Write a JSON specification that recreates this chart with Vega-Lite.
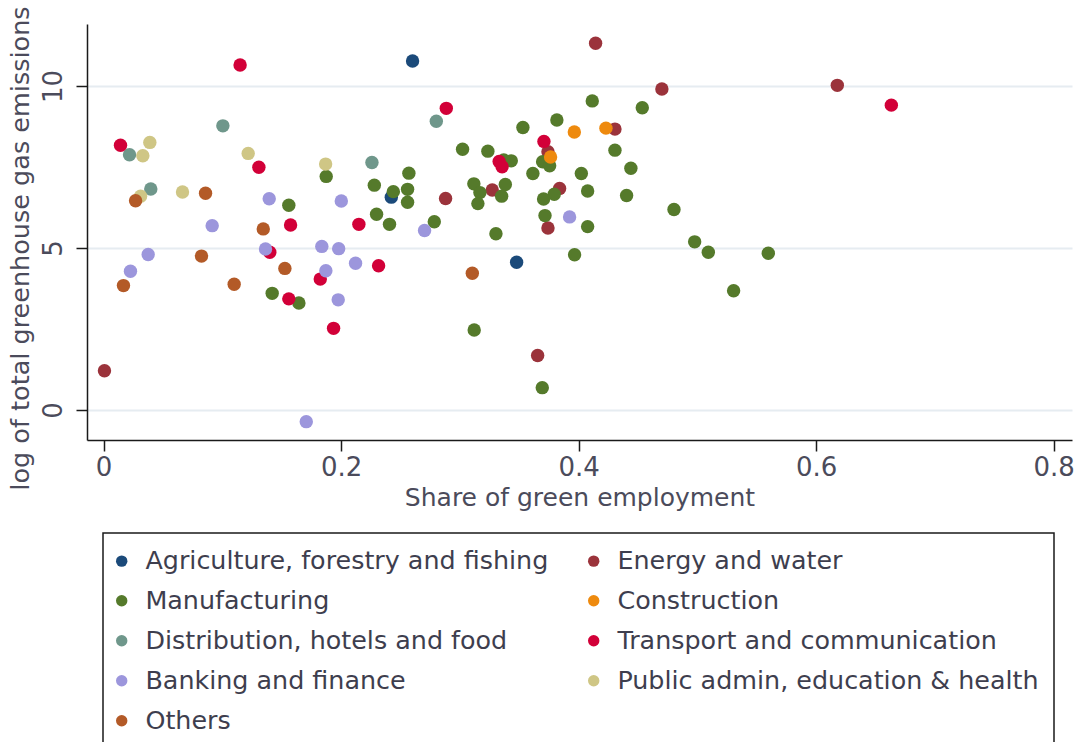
{
  "$schema": "https://vega.github.io/schema/vega-lite/v6.json",
  "width": 985,
  "height": 416,
  "autosize": {"type": "none"},
  "padding": {"left": 87, "top": 24, "right": 2, "bottom": 302},
  "background": "white",
  "config": {
    "font": "DejaVu Sans",
    "view": {"stroke": null},
    "axis": {"labelFont": "DejaVu Sans", "titleFont": "DejaVu Sans", "labelColor": "#4b4b5b", "titleColor": "#4b4b5b", "titleFontWeight": "normal"}
  },
  "data": {
    "values": [
      {"x": 0.2602, "y": 10.77, "s": "Agriculture, forestry and fishing"},
      {"x": 0.2423, "y": 6.57, "s": "Agriculture, forestry and fishing"},
      {"x": 0.3478, "y": 4.56, "s": "Agriculture, forestry and fishing"},
      {"x": 0.4143, "y": 11.32, "s": "Energy and water"},
      {"x": 0.4701, "y": 9.91, "s": "Energy and water"},
      {"x": 0.4306, "y": 8.67, "s": "Energy and water"},
      {"x": 0.3742, "y": 7.97, "s": "Energy and water"},
      {"x": 0.288, "y": 6.53, "s": "Energy and water"},
      {"x": 0.3273, "y": 6.79, "s": "Energy and water"},
      {"x": 0.384, "y": 6.84, "s": "Energy and water"},
      {"x": 0.3742, "y": 5.62, "s": "Energy and water"},
      {"x": 0.3655, "y": 1.68, "s": "Energy and water"},
      {"x": 0.6178, "y": 10.02, "s": "Energy and water"},
      {"x": 0.0008, "y": 1.21, "s": "Energy and water"},
      {"x": 0.1875, "y": 7.21, "s": "Manufacturing"},
      {"x": 0.156, "y": 6.32, "s": "Manufacturing"},
      {"x": 0.142, "y": 3.6, "s": "Manufacturing"},
      {"x": 0.1645, "y": 3.3, "s": "Manufacturing"},
      {"x": 0.4115, "y": 9.54, "s": "Manufacturing"},
      {"x": 0.4536, "y": 9.33, "s": "Manufacturing"},
      {"x": 0.3531, "y": 8.72, "s": "Manufacturing"},
      {"x": 0.3817, "y": 8.95, "s": "Manufacturing"},
      {"x": 0.3023, "y": 8.05, "s": "Manufacturing"},
      {"x": 0.3236, "y": 7.99, "s": "Manufacturing"},
      {"x": 0.4306, "y": 8.02, "s": "Manufacturing"},
      {"x": 0.444, "y": 7.46, "s": "Manufacturing"},
      {"x": 0.2571, "y": 7.31, "s": "Manufacturing"},
      {"x": 0.3433, "y": 7.69, "s": "Manufacturing"},
      {"x": 0.337, "y": 7.72, "s": "Manufacturing"},
      {"x": 0.3697, "y": 7.66, "s": "Manufacturing"},
      {"x": 0.3756, "y": 7.54, "s": "Manufacturing"},
      {"x": 0.3615, "y": 7.3, "s": "Manufacturing"},
      {"x": 0.4023, "y": 7.3, "s": "Manufacturing"},
      {"x": 0.228, "y": 6.94, "s": "Manufacturing"},
      {"x": 0.244, "y": 6.74, "s": "Manufacturing"},
      {"x": 0.256, "y": 6.81, "s": "Manufacturing"},
      {"x": 0.256, "y": 6.41, "s": "Manufacturing"},
      {"x": 0.3118, "y": 6.98, "s": "Manufacturing"},
      {"x": 0.3169, "y": 6.71, "s": "Manufacturing"},
      {"x": 0.3152, "y": 6.37, "s": "Manufacturing"},
      {"x": 0.3383, "y": 6.96, "s": "Manufacturing"},
      {"x": 0.3352, "y": 6.6, "s": "Manufacturing"},
      {"x": 0.3795, "y": 6.66, "s": "Manufacturing"},
      {"x": 0.3705, "y": 6.51, "s": "Manufacturing"},
      {"x": 0.4076, "y": 6.76, "s": "Manufacturing"},
      {"x": 0.4404, "y": 6.62, "s": "Manufacturing"},
      {"x": 0.4803, "y": 6.19, "s": "Manufacturing"},
      {"x": 0.2299, "y": 6.04, "s": "Manufacturing"},
      {"x": 0.2408, "y": 5.73, "s": "Manufacturing"},
      {"x": 0.2785, "y": 5.81, "s": "Manufacturing"},
      {"x": 0.3717, "y": 6.0, "s": "Manufacturing"},
      {"x": 0.4076, "y": 5.66, "s": "Manufacturing"},
      {"x": 0.3304, "y": 5.44, "s": "Manufacturing"},
      {"x": 0.4977, "y": 5.19, "s": "Manufacturing"},
      {"x": 0.5092, "y": 4.87, "s": "Manufacturing"},
      {"x": 0.3966, "y": 4.79, "s": "Manufacturing"},
      {"x": 0.3121, "y": 2.47, "s": "Manufacturing"},
      {"x": 0.3694, "y": 0.69, "s": "Manufacturing"},
      {"x": 0.5597, "y": 4.84, "s": "Manufacturing"},
      {"x": 0.5305, "y": 3.68, "s": "Manufacturing"},
      {"x": 0.3964, "y": 8.58, "s": "Construction"},
      {"x": 0.423, "y": 8.7, "s": "Construction"},
      {"x": 0.3764, "y": 7.81, "s": "Construction"},
      {"x": 0.1005, "y": 8.77, "s": "Distribution, hotels and food"},
      {"x": 0.0219, "y": 7.88, "s": "Distribution, hotels and food"},
      {"x": 0.0398, "y": 6.82, "s": "Distribution, hotels and food"},
      {"x": 0.2802, "y": 8.91, "s": "Distribution, hotels and food"},
      {"x": 0.226, "y": 7.64, "s": "Distribution, hotels and food"},
      {"x": 0.115, "y": 10.65, "s": "Transport and communication"},
      {"x": 0.0143, "y": 8.17, "s": "Transport and communication"},
      {"x": 0.1308, "y": 7.49, "s": "Transport and communication"},
      {"x": 0.1575, "y": 5.71, "s": "Transport and communication"},
      {"x": 0.215, "y": 5.73, "s": "Transport and communication"},
      {"x": 0.14, "y": 4.87, "s": "Transport and communication"},
      {"x": 0.156, "y": 3.43, "s": "Transport and communication"},
      {"x": 0.1825, "y": 4.04, "s": "Transport and communication"},
      {"x": 0.1937, "y": 2.52, "s": "Transport and communication"},
      {"x": 0.2886, "y": 9.31, "s": "Transport and communication"},
      {"x": 0.3708, "y": 8.29, "s": "Transport and communication"},
      {"x": 0.3331, "y": 7.67, "s": "Transport and communication"},
      {"x": 0.3356, "y": 7.51, "s": "Transport and communication"},
      {"x": 0.2316, "y": 4.45, "s": "Transport and communication"},
      {"x": 0.6633, "y": 9.41, "s": "Transport and communication"},
      {"x": 0.1395, "y": 6.52, "s": "Banking and finance"},
      {"x": 0.2002, "y": 6.45, "s": "Banking and finance"},
      {"x": 0.0915, "y": 5.69, "s": "Banking and finance"},
      {"x": 0.0376, "y": 4.8, "s": "Banking and finance"},
      {"x": 0.0227, "y": 4.28, "s": "Banking and finance"},
      {"x": 0.1364, "y": 4.97, "s": "Banking and finance"},
      {"x": 0.1838, "y": 5.05, "s": "Banking and finance"},
      {"x": 0.198, "y": 4.98, "s": "Banking and finance"},
      {"x": 0.1872, "y": 4.3, "s": "Banking and finance"},
      {"x": 0.1976, "y": 3.4, "s": "Banking and finance"},
      {"x": 0.2122, "y": 4.53, "s": "Banking and finance"},
      {"x": 0.1707, "y": -0.36, "s": "Banking and finance"},
      {"x": 0.2703, "y": 5.54, "s": "Banking and finance"},
      {"x": 0.3924, "y": 5.96, "s": "Banking and finance"},
      {"x": 0.039, "y": 8.26, "s": "Public admin, education & health"},
      {"x": 0.0331, "y": 7.85, "s": "Public admin, education & health"},
      {"x": 0.1218, "y": 7.92, "s": "Public admin, education & health"},
      {"x": 0.187, "y": 7.59, "s": "Public admin, education & health"},
      {"x": 0.0312, "y": 6.6, "s": "Public admin, education & health"},
      {"x": 0.0665, "y": 6.73, "s": "Public admin, education & health"},
      {"x": 0.027, "y": 6.46, "s": "Others"},
      {"x": 0.0859, "y": 6.69, "s": "Others"},
      {"x": 0.1345, "y": 5.59, "s": "Others"},
      {"x": 0.0168, "y": 3.84, "s": "Others"},
      {"x": 0.0825, "y": 4.75, "s": "Others"},
      {"x": 0.11, "y": 3.88, "s": "Others"},
      {"x": 0.1527, "y": 4.37, "s": "Others"},
      {"x": 0.3105, "y": 4.22, "s": "Others"}
    ]
  },
  "mark": {"type": "circle", "size": 180, "opacity": 1},
  "encoding": {
    "x": {
      "field": "x", "type": "quantitative",
      "scale": {"domain": [-0.0139, 0.8154], "nice": false, "zero": false},
      "axis": {
        "title": "Share of green employment",
        "values": [0, 0.2, 0.4, 0.6, 0.8],
        "format": "~g",
        "grid": false,
        "domainColor": "#1a1a1a", "domainWidth": 1.5,
        "tickColor": "#1a1a1a", "tickWidth": 1.5, "tickSize": 11,
        "labelFontSize": 26, "labelPadding": 3,
        "titleFontSize": 25, "titlePadding": 5
      }
    },
    "y": {
      "field": "y", "type": "quantitative",
      "scale": {"domain": [-0.926, 11.914], "nice": false, "zero": false},
      "axis": {
        "title": "log of total greenhouse gas emissions",
        "values": [0, 5, 10],
        "grid": true, "gridColor": "#e6ecf1", "gridWidth": 2,
        "domainColor": "#1a1a1a", "domainWidth": 1.5,
        "tickColor": "#1a1a1a", "tickWidth": 1.5, "tickSize": 11,
        "labelAngle": -90, "labelFontSize": 26, "labelPadding": 10,
        "titleFontSize": 25.5, "titleX": -54, "titleY": 224, "titleAngle": -90, "titleBaseline": "bottom", "titleAlign": "center"
      }
    },
    "color": {
      "field": "s", "type": "nominal",
      "scale": {
        "domain": ["Agriculture, forestry and fishing", "Manufacturing", "Distribution, hotels and food", "Banking and finance", "Others", "Energy and water", "Construction", "Transport and communication", "Public admin, education & health"],
        "range": ["#1b4a7a", "#557a2b", "#6f978b", "#9c96dc", "#b35a27", "#9b333b", "#ee8a0e", "#d20038", "#cfc685"]
      },
      "legend": {
        "title": null,
        "orient": "none",
        "legendX": 16,
        "legendY": 509,
        "columns": 2,
        "columnPadding": 38,
        "rowPadding": 13,
        "padding": 15,
        "strokeColor": "#1a1a1a",
        "symbolType": "circle",
        "symbolSize": 130,
        "symbolOpacity": 1,
        "symbolOffset": -9,
        "labelFont": "DejaVu Sans",
        "labelFontSize": 25.4,
        "labelColor": "#3e3e4e",
        "labelOffset": 11,
        "labelLimit": 600,
        "encode": {"legend": {"update": {"strokeWidth": {"value": 1.5}}}}
      }
    }
  }
}
